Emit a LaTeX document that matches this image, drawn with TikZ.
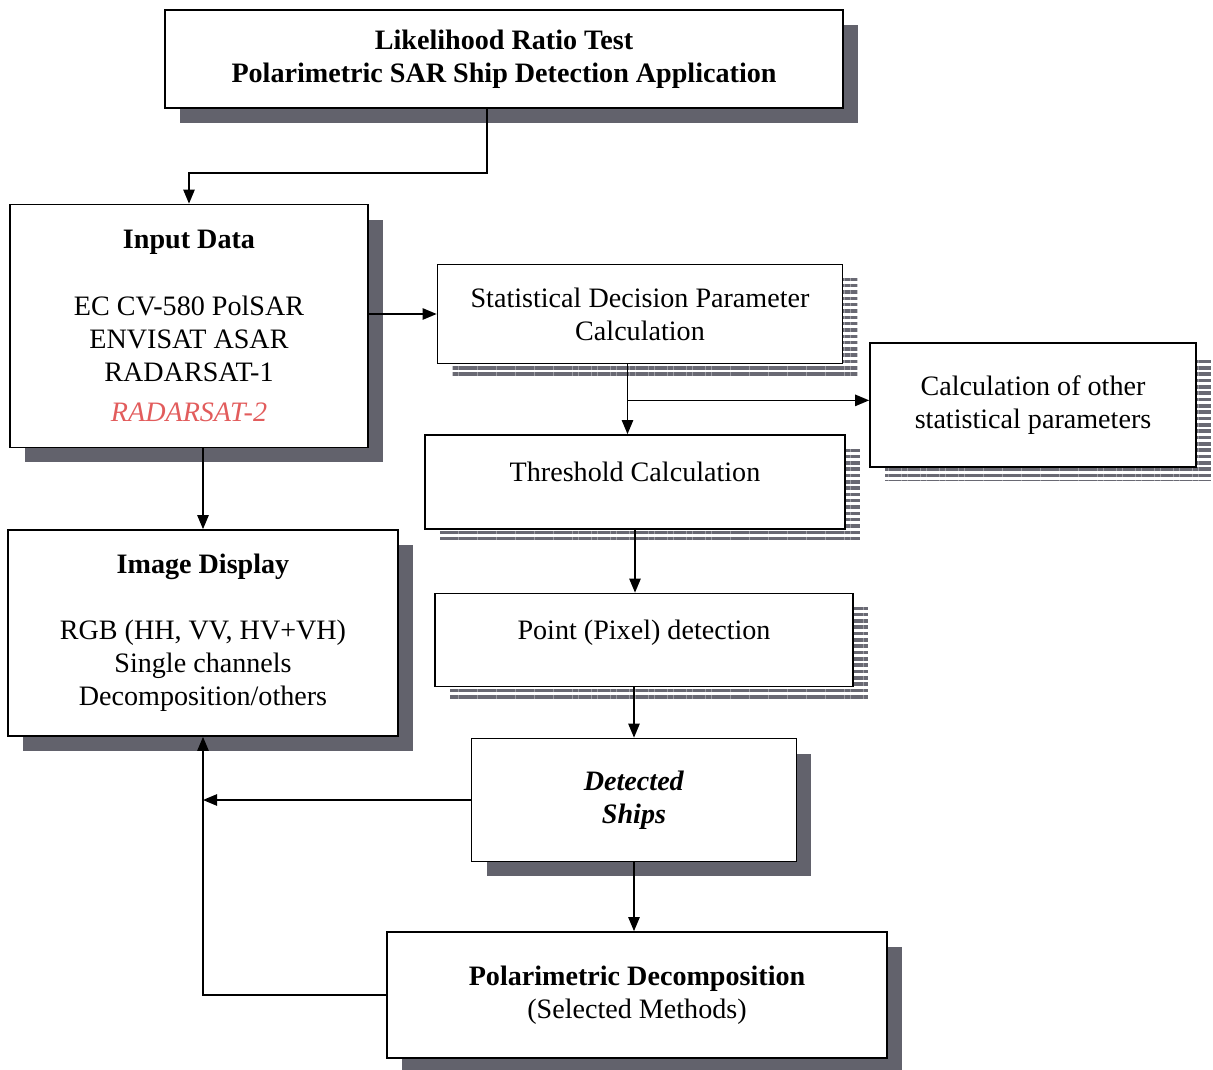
\documentclass[tikz,border=0pt]{standalone}
\usepackage{fontspec}
\setmainfont{Liberation Serif}
\usetikzlibrary{arrows.meta,shadows,patterns.meta}

\definecolor{shadowgray}{RGB}{98,98,108}
\definecolor{stripegray}{RGB}{105,105,115}
\definecolor{radarred}{RGB}{226,92,92}

\begin{document}
\begin{tikzpicture}[
    x=0.02cm, y=-0.02cm,
    box/.style={
        rectangle,
        draw=black,
        line width=1pt,
        fill=white,
        align=center,
        font=\fontsize{16}{18.8}\selectfont
    },
    solidshade/.style={
        drop shadow={shadow xshift=0.3cm, shadow yshift=-0.3cm,
            fill=shadowgray, opacity=1}
    },
    stripeshade/.style={
        general shadow={shadow xshift=0.3cm, shadow yshift=-0.28cm,
            pattern={Lines[distance=3.6pt, line width=2pt]},
            pattern color=stripegray}
    },
    arrow/.style={line width=0.8pt, -{Triangle[length=8pt, width=6.5pt]}},
    link/.style={line width=0.8pt}
]

\useasboundingbox (0,0) rectangle (1213,1070);

% Title
\node[box, solidshade, minimum width=13.56cm, minimum height=1.96cm] (title) at (504, 59)
    {\textbf{Likelihood Ratio Test}\\ \textbf{Polarimetric SAR Ship Detection Application}};

% Left column
\node[box, solidshade, minimum width=7.16cm, minimum height=4.86cm] (input) at (189, 326)
    {\textbf{Input Data}\\[18.8pt]
     EC CV-580 PolSAR\\ ENVISAT ASAR\\ RADARSAT-1\\[4pt]
     \textcolor{radarred}{\textit{RADARSAT-2}}};
\node[box, solidshade, minimum width=7.8cm, minimum height=4.12cm] (image) at (203, 633)
    {\textbf{Image Display}\\[18.8pt]
     RGB (HH, VV, HV+VH)\\ Single channels\\ Decomposition/others};

% Statistics column
\node[box, stripeshade, minimum width=8.1cm, minimum height=1.98cm] (stat) at (640, 314)
    {Statistical Decision Parameter\\ Calculation};
\node[box, stripeshade, minimum width=6.52cm, minimum height=2.48cm] (other) at (1033, 405)
    {Calculation of other\\ statistical parameters};
\node[box, stripeshade, minimum width=8.4cm, minimum height=1.88cm, text depth=0.4cm] (thr) at (635, 482)
    {Threshold Calculation};
\node[box, stripeshade, minimum width=8.36cm, minimum height=1.86cm, text depth=0.4cm] (point) at (644, 640)
    {Point (Pixel) detection};

% Results
\node[box, solidshade, minimum width=6.5cm, minimum height=2.46cm] (det) at (634, 800)
    {\textbf{\textit{Detected}}\\ \textbf{\textit{Ships}}};
\node[box, solidshade, minimum width=10cm, minimum height=2.52cm] (polar) at (637, 995)
    {\textbf{Polarimetric Decomposition}\\ (Selected Methods)};

% Connectors
\draw[arrow] ([xshift=-0.34cm]title.south) -- ++(0, 64) -| (input.north);
\draw[arrow] (stat.west -| input.east) -- (stat.west);
\draw[arrow] (image.north |- input.south) -- (image.north);
\draw[arrow] ([xshift=-0.25cm]stat.south) -- ([xshift=-0.25cm]stat.south |- thr.north);
\coordinate (split) at ([xshift=-0.25cm, yshift=-0.72cm]stat.south);
\draw[arrow] (split) -- (split -| other.west);
\draw[arrow] (thr.south) -- (thr.south |- point.north);
\draw[arrow] (det.north |- point.south) -- (det.north);
\draw[arrow] (det.south) -- (det.south |- polar.north);
\draw[arrow] (det.west) -- (det.west -| image.south);
\draw[arrow] (polar.west) -| (image.south);

\end{tikzpicture}
\end{document}
